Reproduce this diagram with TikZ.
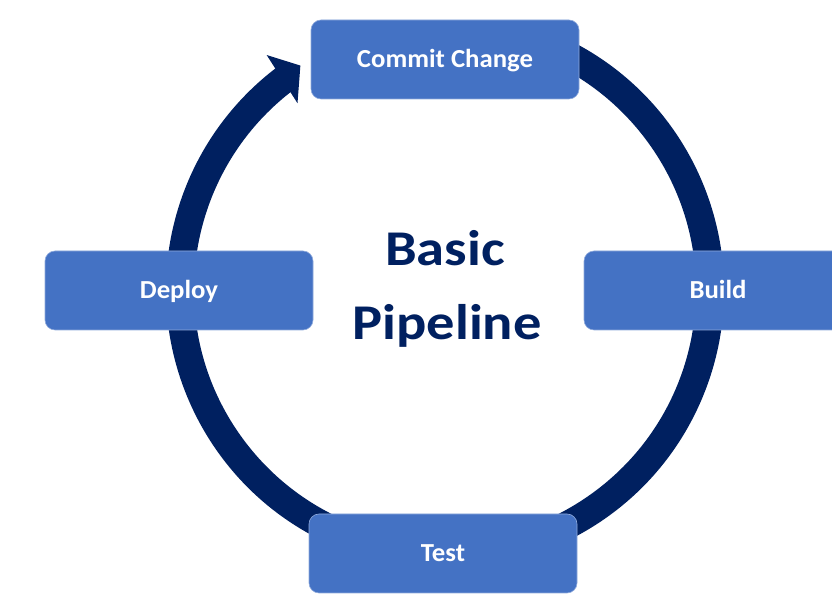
\documentclass[tikz,border=0pt]{standalone}
\usepackage{fontspec}
\setmainfont{Carlito}
\newfontfamily\stagefont[FakeStretch=1.03]{Carlito}
\newfontfamily\titlefont[FakeStretch=1.13]{Carlito}
\definecolor{stageblue}{RGB}{68,114,196}
\definecolor{loopnavy}{RGB}{0,32,96}
\tikzset{
  stagebox/.style={rounded corners=10pt, fill=stageblue, draw=stageblue!60!white, line width=0.6pt,
    minimum width=268pt, minimum height=79pt, inner sep=0pt,
    text=white, font=\stagefont\bfseries\fontsize{26}{30}\selectfont,
    text height=17pt, text depth=0pt},
  titletext/.style={text=loopnavy, font=\titlefont\bfseries\fontsize{50}{60}\selectfont, inner sep=0pt},
  loopfill/.style={fill=loopnavy}
}
\begin{document}
\begin{tikzpicture}[x=1pt, y=1pt]
  \useasboundingbox (0,0) rectangle (832,604);
  \clip (0,0) rectangle (832,604);
  \fill[white] (0,0) rectangle (832,604);

  % circular flow arrow around the centre
  \begin{scope}[shift={(445,314)}]
    \coordinate (hub) at (0,0);
    \fill[loopfill] (68:279) arc[start angle=68, end angle=-233.5, radius=279]
      -- (-233.5:251) arc[start angle=-233.5, end angle=68, radius=251] -- cycle;
    \fill[loopfill] (128.3:238) -- (127.2:295) -- (122.8:267) -- cycle;
  \end{scope}

  % pipeline stages
  \node[stagebox] (commit) at (445,544.5) {Commit Change};
  \node[stagebox] (build)  at (718,313.5) {Build};
  \node[stagebox] (test)   at (443,50.5)  {Test};
  \node[stagebox] (deploy) at (179,313.5) {Deploy};

  % title in the middle
  \node[titletext, anchor=base] (title1) at (445,338) {Basic};
  \node[titletext, anchor=base] (title2) at (447,264) {Pipeline};
\end{tikzpicture}
\end{document}
